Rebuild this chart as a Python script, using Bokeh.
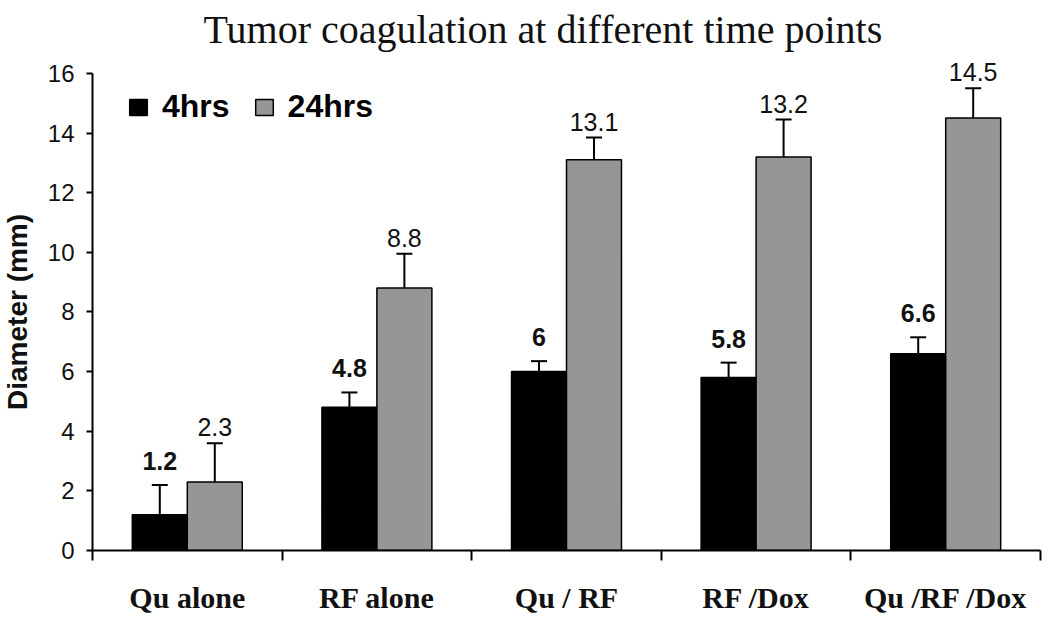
from bokeh.plotting import figure
from bokeh.models import (Range1d, LinearAxis, FixedTicker, Whisker, TeeHead,
                          ColumnDataSource, Legend, LegendItem)
from bokeh.layouts import row
from bokeh.core.properties import value
from bokeh.embed import file_html
from bokeh.resources import INLINE

# ---- data ----
categories = ["Qu alone", "RF alone", "Qu / RF", "RF /Dox", "Qu /RF /Dox"]
hrs4 = [1.2, 4.8, 6.0, 5.8, 6.6]
hrs4_err = [1.0, 0.5, 0.35, 0.5, 0.55]
hrs24 = [2.3, 8.8, 13.1, 13.2, 14.5]
hrs24_err = [1.3, 1.15, 0.75, 1.25, 1.0]
labels4 = ["1.2", "4.8", "6", "5.8", "6.6"]
labels24 = ["2.3", "8.8", "13.1", "13.2", "14.5"]
series_names = ["4hrs", "24hrs"]
yticks = [0, 2, 4, 6, 8, 10, 12, 14, 16]
y_title = "Diameter (mm)"
chart_title = "Tumor coagulation at different time points"

BAR_W = 0.29
n = len(categories)
centers = [i + 0.5 for i in range(n)]
x4 = [c - BAR_W / 2 for c in centers]
x24 = [c + BAR_W / 2 for c in centers]

src4 = ColumnDataSource(dict(x=x4, top=hrs4, up=[v + e for v, e in zip(hrs4, hrs4_err)], lab=labels4))
src24 = ColumnDataSource(dict(x=x24, top=hrs24, up=[v + e for v, e in zip(hrs24, hrs24_err)], lab=labels24))

SANS = "Liberation Sans"
SERIF = "Liberation Serif"
INK = "#111111"

# layout sizes (px)
LEFT_W = 34
TOTAL_W = 1050
MAIN_H = 616
FRAME_L = 92
FRAME_R_PAD = 10
YLAB_X = 16.5     # centre of y title, px from left

xr = Range1d(0, n)
yr = Range1d(0, 16.6)

p = figure(width=TOTAL_W - LEFT_W, height=MAIN_H, x_range=xr, y_range=yr,
           output_backend="svg", toolbar_location=None,
           x_axis_location=None, y_axis_location=None,
           min_border_left=FRAME_L - LEFT_W, min_border_right=FRAME_R_PAD,
           min_border_bottom=0, min_border_top=0)
p.outline_line_color = None
p.xgrid.visible = False
p.ygrid.visible = False

p.title.text = chart_title
p.title.text_font = SERIF
p.title.text_font_size = "40px"
p.title.text_font_style = "normal"
p.title.align = "left"
p.title.offset = 111
p.title.standoff = 8
p.title.text_color = INK

# y axis
yaxis = LinearAxis(ticker=FixedTicker(ticks=yticks, minor_ticks=[]), bounds=(yticks[0], yticks[-1]))
yaxis.axis_line_width = 2
yaxis.major_tick_line_width = 2
yaxis.major_tick_out = 6
yaxis.major_tick_in = 0
yaxis.minor_tick_out = 0
yaxis.major_label_text_font = SANS
yaxis.major_label_text_font_size = "24px"
yaxis.major_label_standoff = 12
yaxis.major_label_text_color = INK
p.add_layout(yaxis, "left")

# x axis: category names at centres, tick marks at category boundaries
xaxis = LinearAxis(ticker=FixedTicker(ticks=centers, minor_ticks=list(range(n + 1))))
xaxis.major_label_overrides = {c: cat for c, cat in zip(centers, categories)}
xaxis.axis_line_width = 2
xaxis.major_tick_out = 0
xaxis.major_tick_in = 0
xaxis.minor_tick_out = 10
xaxis.minor_tick_in = 0
xaxis.minor_tick_line_width = 2
xaxis.major_label_text_font = SERIF
xaxis.major_label_text_font_style = "bold"
xaxis.major_label_text_font_size = "30px"
xaxis.major_label_standoff = 20
xaxis.major_label_text_color = INK
p.add_layout(xaxis, "below")

# bars
r4 = p.vbar(x="x", top="top", width=BAR_W, bottom=0, source=src4,
            fill_color="#000000", line_color="#000000", line_width=1.5)
r24 = p.vbar(x="x", top="top", width=BAR_W, bottom=0, source=src24,
             fill_color="#969696", line_color="#000000", line_width=1.5)

# error bars (upper only)
for src in (src4, src24):
    w = Whisker(source=src, base="x", lower="top", upper="up", dimension="height",
                line_width=2, line_color="#000000",
                upper_head=TeeHead(size=16, line_width=2, line_color="#000000"),
                lower_head=None)
    p.add_layout(w)

# value labels
p.text(x="x", y="up", text="lab", source=src4, text_align="center",
       text_baseline="alphabetic", y_offset=-24, text_font_size="25px",
       text_font_style="bold", text_font=value(SANS), text_color=INK)
p.text(x="x", y="up", text="lab", source=src24, text_align="center",
       text_baseline="alphabetic", y_offset=-16, text_font_size="25px",
       text_font_style="normal", text_font=value(SANS), text_color=INK)

# legend
legend = Legend(items=[LegendItem(label=series_names[0], renderers=[r4]),
                       LegendItem(label=series_names[1], renderers=[r24])],
                orientation="horizontal", location=(35, 425))
legend.label_text_font = SANS
legend.label_text_font_style = "bold"
legend.label_text_font_size = "32px"
legend.label_text_color = "#000000"
legend.glyph_width = 22
legend.glyph_height = 20
legend.border_line_color = None
legend.background_fill_alpha = 0
legend.padding = 0
legend.margin = 0
legend.spacing = 23
legend.label_standoff = 13
p.add_layout(legend)

# y-axis title strip (left); shares the y scale, centred on the axis span
yl = figure(width=LEFT_W, height=MAIN_H, x_range=Range1d(0, LEFT_W), y_range=yr,
            output_backend="svg", toolbar_location=None,
            x_axis_location=None, y_axis_location=None,
            min_border_left=0, min_border_right=0, min_border_top=0, min_border_bottom=0)
yl.title.text_font_size = "0px"
yl.title.standoff = 0
yl.title.visible = False
yl.outline_line_color = None
yl.xgrid.visible = False
yl.ygrid.visible = False
yl.text(x=[YLAB_X], y=[(yticks[0] + yticks[-1]) / 2], text=[y_title], angle=90, angle_units="deg",
        text_align="center", text_baseline="middle", text_font=value(SANS),
        text_font_style="bold", text_font_size="28px", text_color=INK)

layout = row(yl, p)
open("out.html", "w").write(file_html(layout, INLINE))
